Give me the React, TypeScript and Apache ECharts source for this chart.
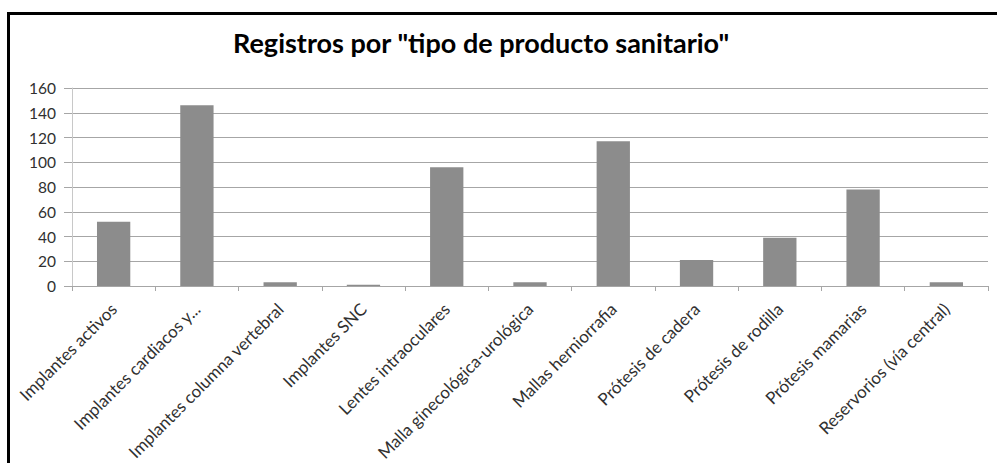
import React, { useEffect, useRef } from "react";
import * as echarts from "echarts";

const categories = [
  "Implantes activos",
  "Implantes cardiacos y...",
  "Implantes columna vertebral",
  "Implantes SNC",
  "Lentes intraoculares",
  "Malla ginecológica-urológica",
  "Mallas herniorrafia",
  "Prótesis de cadera",
  "Prótesis de rodilla",
  "Prótesis mamarias",
  "Reservorios (vía central)",
];
const values = [52, 146, 3, 1, 96, 3, 117, 21, 39, 78, 3];
const titleText = 'Registros por "tipo de producto sanitario"';
const yMin = 0;
const yMax = 160;
const yStep = 20;

export default function App() {
  const ref = useRef<HTMLDivElement>(null);
  useEffect(() => {
    if (!ref.current) return;
    const chart = echarts.init(ref.current, null, { renderer: "svg" });
    chart.setOption({
      animation: false,
      backgroundColor: "#ffffff",
      textStyle: { fontFamily: "Lato" },
      title: {
        text: titleText,
        left: 233,
        top: 29,
        padding: 0,
        textStyle: { fontFamily: "Lato", fontWeight: "bold", fontSize: 27, color: "#000000" },
      },
      graphic: [
        { type: "rect", shape: { x: 7, y: 12, width: 3, height: 451 }, style: { fill: "#000000" } },
        { type: "rect", shape: { x: 7, y: 12, width: 990, height: 3 }, style: { fill: "#000000" } },
      ],
      grid: { left: 72, right: 9, top: 88, height: 198, containLabel: false, outerBoundsMode: "none" },
      xAxis: {
        type: "category",
        data: categories,
        axisLine: { show: true, lineStyle: { color: "#a6a6a6", width: 1 } },
        axisTick: { show: true, length: 5, lineStyle: { color: "#a6a6a6" } },
        axisLabel: {
          rotate: 45,
          interval: 0,
          margin: 20,
          fontSize: 17,
          fontFamily: "Lato",
          color: "#303030",
        },
      },
      yAxis: {
        type: "value",
        min: yMin,
        max: yMax,
        interval: yStep,
        axisLine: { show: true, lineStyle: { color: "#c8c8c8", width: 1 } },
        axisTick: { show: true, inside: false, length: 8, lineStyle: { color: "#a6a6a6" } },
        splitLine: { show: true, lineStyle: { color: "#a6a6a6", width: 1 } },
        axisLabel: { margin: 16, fontSize: 15.5, fontFamily: "Lato", color: "#303030" },
      },
      series: [
        {
          type: "bar",
          data: values,
          barWidth: "40%",
          itemStyle: { color: "#8c8c8c" },
        },
      ],
    });
    return () => chart.dispose();
  }, []);
  return (
    <div
      ref={ref}
      style={{ position: "absolute", left: 0, top: 0, width: 997, height: 463 }}
    />
  );
}
